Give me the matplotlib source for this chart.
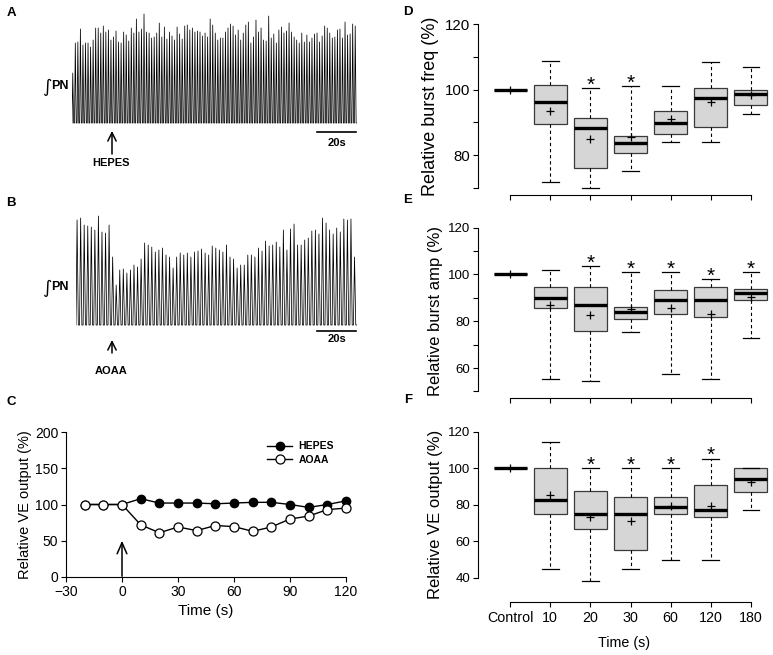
import numpy as np
import matplotlib
matplotlib.use('Agg')
import matplotlib.pyplot as plt

plt.rcParams['font.family'] = ['Liberation Sans', 'DejaVu Sans']

# ---- raw traces: burst peak heights (px above baseline)
hepes_peaks = [50, 80, 81, 94, 78, 80, 80, 76, 83, 95, 95, 90, 97, 91, 93, 83, 86, 92, 81, 80,
               91, 88, 82, 95, 90, 104, 91, 94, 109, 91, 90, 85, 86, 90, 100, 86, 96, 84, 91, 87,
               83, 96, 89, 84, 97, 98, 93, 95, 91, 92, 91, 87, 90, 86, 104, 98, 90, 83, 85,
               85, 91, 95, 99, 97, 88, 93, 83, 90, 98, 101, 80, 86, 103, 91, 95, 83, 82, 107,
               85, 89, 80, 93, 96, 90, 92, 100, 91, 86, 83, 80, 90, 81, 88, 81, 85, 89, 90, 81,
               87, 97, 95, 90, 85, 86, 93, 94, 85, 101, 88, 89, 99, 97]
aoaa_peaks = [105, 107, 100, 99, 98, 95, 109, 93, 92, 100, 68, 40, 55, 56, 52, 55, 60, 58, 66, 82,
              80, 78, 73, 75, 77, 70, 68, 57, 68, 72, 70, 72, 68, 73, 74, 76, 72, 70, 79, 77,
              75, 73, 80, 68, 66, 57, 60, 60, 70, 70, 68, 77, 74, 84, 79, 80, 83, 78, 95, 75,
              96, 101, 80, 80, 85, 87, 94, 95, 91, 107, 102, 95, 91, 97, 93, 106, 105, 106, 68]
trace_dur_a = 150   # s
trace_dur_b = 148   # s

# ---- panel C
c_time = [-20, -10, 0, 10, 20, 30, 40, 50, 60, 70, 80, 90, 100, 110, 120]
c_hepes = [100, 100, 100, 108, 102, 102, 102, 101, 102, 103, 103, 100, 96, 100, 105]
c_aoaa = [100, 100, 100, 72, 61, 69, 64, 71, 69.5, 63, 69, 80, 84, 93, 95]

# ---- panels D-F (box stats)
time_labels = ['Control', '10', '20', '30', '60', '120', '180']

freq_whishi = [100, 108.6, 100.5, 101.0, 101.0, 108.4, 106.8]
freq_q3 = [100, 101.4, 91.4, 85.9, 93.6, 100.5, 100.0]
freq_med = [100, 96.2, 88.3, 83.7, 89.8, 97.5, 98.6]
freq_q1 = [100, 89.6, 76.0, 80.6, 86.4, 88.5, 95.4]
freq_whislo = [100, 71.8, 70.1, 75.3, 84.2, 84.2, 92.6]
freq_mean = [100, 93.4, 85.0, 85.6, 91.0, 96.2, 98.3]
freq_sig = [False, False, True, True, False, False, False]

amp_whishi = [100, 101.8, 103.8, 101.1, 101.1, 97.9, 101.1]
amp_q3 = [100, 94.5, 94.5, 86.1, 93.2, 94.5, 93.9]
amp_med = [100, 90.0, 86.9, 84.1, 88.9, 89.2, 92.0]
amp_q1 = [100, 85.5, 76.0, 80.9, 83.1, 81.8, 89.3]
amp_whislo = [100, 55.3, 54.3, 75.4, 57.5, 55.3, 72.9]
amp_mean = [100, 86.8, 82.5, 85.4, 85.8, 83.1, 90.5]
amp_sig = [False, False, True, True, True, True, True]

ve_whishi = [100, 114.2, 100, 100, 100, 105.3, 100]
ve_q3 = [100, 100, 87.6, 84.3, 84.3, 90.7, 100]
ve_med = [100, 82.6, 75.0, 75.0, 78.7, 77.2, 94.2]
ve_q1 = [100, 74.9, 66.6, 55.0, 74.9, 73.3, 86.9]
ve_whislo = [100, 45.0, 38.3, 45.0, 49.9, 49.9, 76.9]
ve_mean = [100, 85.3, 73.1, 70.9, 79.1, 79.5, 92.3]
ve_sig = [False, False, True, True, True, True, False]

W, H = 773, 655
fig = plt.figure(figsize=(W / 100, H / 100), dpi=100)


def fx(px):
    return px / W


def fy(py):
    return 1 - py / H


def add_ax(left, top, right, bottom):
    return fig.add_axes([fx(left), fy(bottom), (right - left) / W, (bottom - top) / H])


def trace_xy(peaks, dur):
    T = dur / len(peaks)
    xs, ys = [], []
    for i, h in enumerate(peaks):
        t0 = i * T
        xs += [t0, t0 + 0.3 * T, t0 + 0.65 * T]
        ys += [0, h, 0]
    xs.append(dur)
    ys.append(0)
    return xs, ys


def arrow(x, y_tail, y_head, hl=0.5, hw=0.25, lw=1.1):
    fig.add_artist(matplotlib.patches.FancyArrowPatch(
        (fx(x), fy(y_tail)), (fx(x), fy(y_head)), transform=fig.transFigure,
        arrowstyle='->,head_length=%s,head_width=%s' % (hl, hw), lw=lw, color='k',
        mutation_scale=12, shrinkA=0, shrinkB=0))


bold = dict(fontweight='bold', color='k')

# ---------------- A / B traces
for peaks, dur, (l, t, r, b), bar_y, txt_y, drug, arr, drug_y, pn_y in [
        (hepes_peaks, trace_dur_a, (72, 10, 357, 125), 132, 143, 'HEPES', (154, 131), 163, 86),
        (aoaa_peaks, trace_dur_b, (76, 210, 357, 327), 331, 339, 'AOAA', (353, 340), 371, 287)]:
    ax = add_ax(l, t, r, b)
    xs, ys = trace_xy(peaks, dur)
    ax.plot(xs, ys, color='k', lw=0.55)
    ax.set_xlim(0, dur)
    ax.set_ylim(-2, (b - t) - 2)
    ax.axis('off')
    fig.add_artist(plt.Line2D([fx(317), fx(356)], [fy(bar_y), fy(bar_y)], color='k', lw=1.2))
    fig.text(fx(337), fy(txt_y), '20s', ha='center', va='center', fontsize=8, **bold)
    arrow(112, arr[0], arr[1])
    fig.text(fx(111), fy(drug_y), drug, ha='center', va='center', fontsize=8, **bold)
    fig.text(fx(47), fy(pn_y + 1), '∫', ha='center', va='center', fontsize=13,
             family='DejaVu Sans', color='k')
    fig.text(fx(51), fy(pn_y), 'PN', ha='left', va='center', fontsize=9, **bold)

# ---------------- C
axc = add_ax(66, 432, 346, 577)
axc.plot(c_time, c_hepes, '-o', color='k', mfc='k', mec='k', ms=6, lw=1, clip_on=False,
         label='HEPES', zorder=3)
axc.plot(c_time, c_aoaa, '-o', color='k', mfc='white', mec='k', ms=6.5, lw=1, mew=0.9,
         clip_on=False, label='AOAA', zorder=4)
axc.set_xlim(-30, 120)
axc.set_ylim(0, 200)
axc.set_xticks([-30, 0, 30, 60, 90, 120])
axc.set_yticks([0, 50, 100, 150, 200])
axc.spines[['top', 'right']].set_visible(False)
axc.tick_params(direction='out', length=3.5, labelsize=10, pad=2)
axc.set_xlabel('Time (s)', fontsize=11, labelpad=4)
axc.set_ylabel('Relative VE output (%)', fontsize=10.5, labelpad=2)
axc.annotate('', xy=(0, 50), xytext=(0, 1),
             arrowprops=dict(arrowstyle='->,head_length=0.8,head_width=0.35', lw=1.1, color='k',
                             shrinkA=0, shrinkB=0))
axc.legend(loc='upper left', bbox_to_anchor=(fx(262), fy(436)), bbox_transform=fig.transFigure,
           frameon=False, prop=dict(family='Liberation Sans', weight='bold', size=7.5),
           handlelength=2.4, handletextpad=0.6, labelspacing=0.35, borderpad=0)


# ---------------- D-F
def box_panel(top, bottom, ylims, ymin_tick, ymax_tick, ytick_step,
              whishi, q3, med, q1, whislo, mean, sig, ylabel, tick_fs, lab_fs, xlabels):
    # y scale fixed by the spine bounds; bottom edge is the x-axis line
    ax = add_ax(478, top, 771, bottom)
    stats = []
    for i in range(len(med)):
        stats.append(dict(med=med[i], q1=q1[i], q3=q3[i], whislo=whislo[i],
                          whishi=whishi[i], mean=mean[i]))
    ax.bxp(stats, positions=range(1, 8), widths=0.82, capwidths=0.42, patch_artist=True,
           showmeans=True, showfliers=False,
           boxprops=dict(facecolor='#d6d6d6', edgecolor='#3a3a3a', lw=0.9),
           medianprops=dict(color='k', lw=2.4, solid_capstyle='butt'),
           whiskerprops=dict(color='k', lw=0.8, linestyle=(0, (3, 2.5))),
           capprops=dict(color='k', lw=0.9),
           meanprops=dict(marker='+', markeredgecolor='k', markersize=6, mew=0.9))
    for i, s in enumerate(sig):
        if s:
            ax.annotate('*', xy=(i + 1, whishi[i]), xytext=(0, -2), textcoords='offset points',
                        ha='center', va='baseline', fontsize=15, color='k')
    ax.set_xlim(0.2, 7.5)
    ax.set_ylim(*ylims)
    ticks = np.arange(ymin_tick, ymax_tick + 1, ytick_step)
    ax.set_yticks(ticks)
    ax.set_yticklabels([str(int(v)) if v % 20 == 0 else '' for v in ticks])
    ax.set_xticks(range(1, 8))
    ax.set_xticklabels(xlabels)
    ax.spines[['top', 'right']].set_visible(False)
    ax.spines['left'].set_bounds(ymin_tick, ymax_tick)
    ax.spines['bottom'].set_bounds(1, 7)
    ax.tick_params(direction='out', length=3.5, labelsize=tick_fs, pad=2)
    ax.set_ylabel(ylabel, fontsize=lab_fs, labelpad=4)
    return ax


axd = box_panel(17.5, 195, (67.9, 122), 70, 120, 10,
                freq_whishi, freq_q3, freq_med, freq_q1, freq_whislo, freq_mean, freq_sig,
                'Relative burst freq (%)', 10.8, 13, [''] * 7)
axd.set_yticklabels(['', '80', '', '100', '', '120'])
axe = box_panel(223, 398, (47.2, 122), 50, 120, 10,
                amp_whishi, amp_q3, amp_med, amp_q1, amp_whislo, amp_mean, amp_sig,
                'Relative burst amp (%)', 9.5, 12, [''] * 7)
axf = box_panel(428, 601.7, (26.9, 122), 40, 120, 20,
                ve_whishi, ve_q3, ve_med, ve_q1, ve_whislo, ve_mean, ve_sig,
                'Relative VE output (%)', 9.5, 12, time_labels)
axf.tick_params(axis='x', labelsize=10.3, pad=3)
axf.set_xlabel('Time (s)', fontsize=10.3, labelpad=8)

# panel letters
for letter, x, y in [('A', 11, 13), ('B', 11, 203), ('C', 11, 402),
                     ('D', 408, 12), ('E', 408, 200), ('F', 408, 400)]:
    fig.text(fx(x), fy(y), letter, ha='center', va='center', fontsize=9.5, **bold)

fig.savefig('out.png', dpi=100)
